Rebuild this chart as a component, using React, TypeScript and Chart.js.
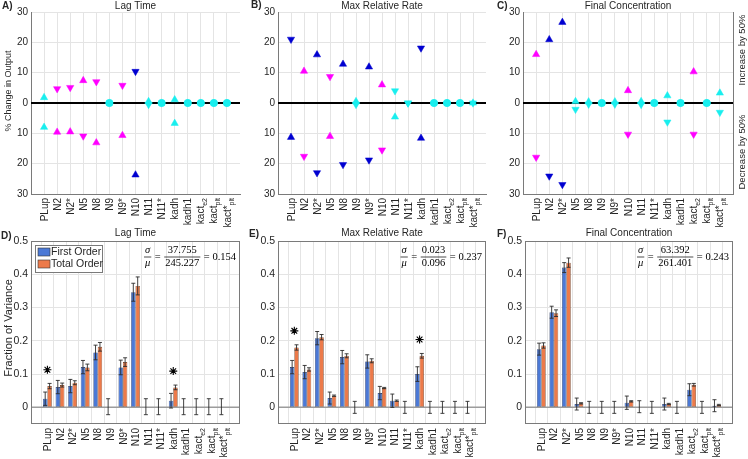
import React, { useEffect, useRef } from 'react';
import { Chart, registerables } from 'chart.js';

Chart.register(...registerables);

// ---------- categories ----------
const categories = ['PLup', 'N2', 'N2*', 'N5', 'N8', 'N9', 'N9*', 'N10', 'N11', 'N11*', 'kadh', 'kadh1', 'kact', 'kact', 'kact*'];
const categorySubs = ['', '', '', '', '', '', '', '', '', '', '', '', 'e2', 'plt', 'plt'];

// ---------- top row: % change (increase by 50% / decrease by 50%) ----------
// marker code: colour (m magenta, b blue, c cyan) + shape (^ up, v down, o circle)
const lagIncVal = [1.8, 4.7, 5.1, 7.4, 7.0, 0, 5.8, 10.4, 0.5, 0, 1.1, 0, 0, 0, 0];
const lagIncMark = ['c^', 'mv', 'mv', 'm^', 'mv', 'co', 'mv', 'bv', 'c^', 'co', 'c^', 'co', 'co', 'co', 'co'];
const lagDecVal = [8.0, 9.6, 9.5, 10.9, 13.1, 0, 10.7, 23.7, 0.5, 0, 6.7, 0, 0, 0, 0];
const lagDecMark = ['c^', 'm^', 'm^', 'mv', 'm^', 'co', 'm^', 'b^', 'cv', 'co', 'c^', 'co', 'co', 'co', 'co'];

const rateIncVal = [21.0, 10.5, 15.9, 8.7, 12.8, 0.5, 11.9, 6.0, 4.0, 0, 18.1, 0, 0, 0, 0];
const rateIncMark = ['bv', 'm^', 'b^', 'mv', 'b^', 'c^', 'b^', 'm^', 'cv', 'cv', 'bv', 'co', 'co', 'co', 'c^'];
const rateDecVal = [11.3, 17.6, 23.0, 11.0, 20.3, 0.5, 18.8, 15.5, 4.6, 0, 11.6, 0, 0, 0, 0];
const rateDecMark = ['b^', 'mv', 'bv', 'm^', 'bv', 'cv', 'bv', 'mv', 'c^', 'cv', 'b^', 'co', 'co', 'co', 'cv'];

const concIncVal = [16.0, 20.9, 26.6, 0.5, 0.4, 0, 0.4, 4.1, 0.5, 0, 2.4, 0, 10.3, 0, 3.3];
const concIncMark = ['m^', 'b^', 'b^', 'c^', 'c^', 'co', 'c^', 'm^', 'c^', 'co', 'c^', 'co', 'm^', 'co', 'c^'];
const concDecVal = [17.9, 24.1, 26.9, 2.1, 0.4, 0, 0.4, 10.3, 0.5, 0, 6.3, 0, 10.3, 0, 3.1];
const concDecMark = ['mv', 'bv', 'bv', 'cv', 'cv', 'co', 'cv', 'mv', 'cv', 'co', 'cv', 'co', 'mv', 'co', 'cv'];

const topTicks = [-30, -20, -10, 0, 10, 20, 30];

// ---------- bottom row: fraction of variance ----------
const lagFirst = [0.026, 0.061, 0.064, 0.121, 0.165, 0.002, 0.120, 0.346, 0.002, 0.002, 0.020, 0.002, 0.002, 0.002, 0.002];
const lagFirstErr = [0.02, 0.02, 0.02, 0.02, 0.022, 0.024, 0.022, 0.027, 0.024, 0.024, 0.022, 0.024, 0.024, 0.024, 0.024];
const lagTotal = [0.064, 0.067, 0.074, 0.120, 0.182, 0, 0.136, 0.365, 0, 0, 0.060, 0, 0, 0, 0];
const lagTotalErr = [0.008, 0.006, 0.006, 0.01, 0.013, 0, 0.013, 0.027, 0, 0, 0.007, 0, 0, 0, 0];
const lagStar = [0.113, null, null, null, null, null, null, null, null, null, 0.109, null, null, null, null];

const rateFirst = [0.121, 0.106, 0.208, 0.028, 0.151, 0, 0.138, 0.043, 0.020, 0, 0.100, 0, 0, 0, 0];
const rateFirstErr = [0.02, 0.02, 0.02, 0.018, 0.02, 0.018, 0.02, 0.02, 0.02, 0.018, 0.022, 0.018, 0.018, 0.018, 0.018];
const rateTotal = [0.180, 0.114, 0.211, 0.035, 0.155, 0, 0.140, 0.058, 0.020, 0, 0.155, 0, 0, 0, 0];
const rateTotalErr = [0.008, 0.005, 0.008, 0.002, 0.006, 0, 0.006, 0.002, 0.002, 0, 0.007, 0, 0, 0, 0];
const rateStar = [0.230, null, null, null, null, null, null, null, null, null, 0.204, null, null, null, null];

const concFirst = [0.175, 0.286, 0.420, 0.010, 0, 0, 0, 0.014, 0.002, 0, 0.010, 0, 0.053, 0, 0.005];
const concFirstErr = [0.018, 0.018, 0.015, 0.018, 0.018, 0.018, 0.018, 0.02, 0.018, 0.018, 0.018, 0.018, 0.018, 0.018, 0.018];
const concTotal = [0.186, 0.283, 0.435, 0.012, 0, 0, 0, 0.018, 0, 0, 0.010, 0, 0.068, 0, 0.007];
const concTotalErr = [0.008, 0.01, 0.014, 0.002, 0, 0, 0, 0.002, 0, 0, 0.002, 0, 0.004, 0, 0.002];
const concStar = [null, null, null, null, null, null, null, null, null, null, null, null, null, null, null];

const bottomTicks = [0, 0.1, 0.2, 0.3, 0.4, 0.5];

const lagRatio = ['37.755', '245.227', '0.154'];
const rateRatio = ['0.023', '0.096', '0.237'];
const concRatio = ['63.392', '261.401', '0.243'];

// ---------- styles ----------
const W = 748;
const H = 459;
const YW = 30;
const SANS = '"Liberation Sans", Arial, Helvetica, sans-serif';
const SERIF = '"Liberation Serif", "DejaVu Serif", serif';
const GRID = '#e4e4e4';
const AXIS = '#7a7a7a';
const TEXT = '#262626';
const BLUE = '#4b79d6';
const ORANGE = '#ec7a4a';
const MCOL: Record<string, string> = { m: '#ff00ff', b: '#0000d0', c: '#19eeee' };

type Box = { l: number; t: number; r: number; b: number };

function drawXLabels(chart: any) {
  const { ctx, chartArea, scales } = chart;
  ctx.save();
  ctx.fillStyle = TEXT;
  categories.forEach((c, i) => {
    const px = scales.x.getPixelForValue(i + 1);
    ctx.save();
    ctx.translate(px + 3.6, chartArea.bottom + 4);
    ctx.rotate(-Math.PI / 2);
    ctx.font = `10px ${SANS}`;
    const w1 = ctx.measureText(c).width;
    ctx.font = `7px ${SANS}`;
    const w2 = categorySubs[i] ? ctx.measureText(categorySubs[i]).width : 0;
    const total = w1 + w2;
    ctx.textAlign = 'left';
    ctx.textBaseline = 'alphabetic';
    ctx.font = `10px ${SANS}`;
    ctx.fillText(c, -total, 0);
    if (categorySubs[i]) {
      ctx.font = `7px ${SANS}`;
      ctx.fillText(categorySubs[i], -total + w1, 3);
    }
    ctx.restore();
  });
  ctx.restore();
}

function drawText(ctx: any, txt: string, x: number, y: number, font: string, align = 'center', rot = 0) {
  ctx.save();
  ctx.translate(x, y);
  if (rot) ctx.rotate(rot);
  ctx.font = font;
  ctx.fillStyle = TEXT;
  ctx.textAlign = align;
  ctx.textBaseline = 'middle';
  ctx.fillText(txt, 0, 0);
  ctx.restore();
}

function drawFormula(ctx: any, right: number, midY: number, parts: string[]) {
  const [num, den, val] = parts;
  const fN = `10.5px ${SERIF}`;
  const fI = `italic 10.5px ${SERIF}`;
  ctx.save();
  ctx.fillStyle = '#000';
  ctx.strokeStyle = '#000';
  ctx.lineWidth = 0.7;
  ctx.textBaseline = 'middle';
  ctx.textAlign = 'center';
  ctx.font = fI;
  const wSig = Math.max(ctx.measureText('σ').width, ctx.measureText('μ').width) + 2;
  ctx.font = fN;
  const wEq = ctx.measureText('=').width;
  const wFr = Math.max(ctx.measureText(num).width, ctx.measureText(den).width) + 2;
  const tail = '= ' + val;
  const wTail = ctx.measureText(tail).width;
  const gap = 3.5;
  const total = wSig + gap + wEq + gap + wFr + gap + wTail;
  let x = right - total;
  const frac = (x0: number, w: number, a: string, b: string, font: string) => {
    ctx.font = font;
    ctx.fillText(a, x0 + w / 2, midY - 6.5);
    ctx.fillText(b, x0 + w / 2, midY + 6.5);
    ctx.beginPath();
    ctx.moveTo(x0, midY + 0.5);
    ctx.lineTo(x0 + w, midY + 0.5);
    ctx.stroke();
  };
  frac(x, wSig, 'σ', 'μ', fI);
  x += wSig + gap;
  ctx.font = fN;
  ctx.textAlign = 'left';
  ctx.fillText('=', x, midY + 1);
  x += wEq + gap;
  ctx.textAlign = 'center';
  frac(x, wFr, num, den, fN);
  x += wFr + gap;
  ctx.textAlign = 'left';
  ctx.font = fN;
  ctx.fillText(tail, x, midY + 1);
  ctx.restore();
}

function baseOptions(box: Box) {
  return {
    animation: false,
    responsive: false,
    devicePixelRatio: 1,
    events: [],
    layout: { padding: { left: box.l - YW, top: box.t, right: W - box.r, bottom: H - box.b } },
    plugins: { legend: { display: false }, tooltip: { enabled: false }, title: { display: false } },
  };
}

function topConfig(title: string, letter: string, letterPos: [number, number], box: Box,
  incVal: number[], incMark: string[], decVal: number[], decMark: string[], extra: { ylabel?: boolean; right?: boolean }) {
  const data: any[] = [];
  const styles: string[] = [];
  const rots: number[] = [];
  const colors: string[] = [];
  const radii: number[] = [];
  const push = (v: number, m: string) => {
    data.push({ x: data.length % 15 + 1, y: v });
    colors.push(MCOL[m[0]]);
    styles.push(m[1] === 'o' ? 'circle' : 'triangle');
    rots.push(m[1] === 'v' ? 180 : 0);
    radii.push(m[1] === 'o' ? 3.6 : 4.2);
  };
  incVal.forEach((v, i) => push(v, incMark[i]));
  decVal.forEach((v, i) => push(-v, decMark[i]));
  return {
    type: 'scatter',
    data: {
      datasets: [{
        label: title, data, pointStyle: styles, rotation: rots, pointRadius: radii,
        backgroundColor: colors, borderColor: colors, borderWidth: 0.5,
      }],
    },
    options: {
      ...baseOptions(box),
      scales: {
        x: {
          type: 'linear', min: 0, max: 16,
          afterBuildTicks: (s: any) => { s.ticks = categories.map((_, i) => ({ value: i + 1 })); },
          afterFit: (s: any) => { s.height = 0; },
          ticks: { display: false },
          grid: { color: GRID, drawTicks: false },
          border: { color: AXIS },
        },
        y: {
          type: 'linear', min: -30, max: 30,
          afterBuildTicks: (s: any) => { s.ticks = topTicks.map((v) => ({ value: v })); },
          afterFit: (s: any) => { s.width = YW; },
          ticks: { callback: (v: number) => String(Math.abs(v)), color: TEXT, font: { family: SANS, size: 10 }, padding: 3 },
          grid: { color: GRID, drawTicks: false },
          border: { color: AXIS },
        },
      },
    },
    plugins: [{
      id: 'deco',
      beforeDatasetsDraw(chart: any) {
        const { ctx, chartArea, scales } = chart;
        const y0 = scales.y.getPixelForValue(0);
        ctx.save();
        ctx.strokeStyle = '#000';
        ctx.lineWidth = 2;
        ctx.beginPath();
        ctx.moveTo(chartArea.left, y0);
        ctx.lineTo(chartArea.right, y0);
        ctx.stroke();
        if (extra.right) {
          ctx.strokeStyle = AXIS;
          ctx.lineWidth = 1;
          ctx.beginPath();
          ctx.moveTo(chartArea.right + 0.5, chartArea.top);
          ctx.lineTo(chartArea.right + 0.5, chartArea.bottom);
          ctx.stroke();
        }
        ctx.restore();
      },
      afterDraw(chart: any) {
        const { ctx, chartArea } = chart;
        drawXLabels(chart);
        drawText(ctx, title, (chartArea.left + chartArea.right) / 2, 6.5, `10px ${SANS}`);
        drawText(ctx, letter, letterPos[0], letterPos[1], `bold 10px ${SANS}`, 'left');
        if (extra.ylabel) drawText(ctx, '% Change in Output', 9, 91, `9px ${SANS}`, 'center', -Math.PI / 2);
        if (extra.right) {
          drawText(ctx, 'Increase by 50%', 742, 50, `9.5px ${SANS}`, 'center', -Math.PI / 2);
          drawText(ctx, 'Decrease by 50%', 742, 152, `9.5px ${SANS}`, 'center', -Math.PI / 2);
        }
      },
    }],
  };
}

function bottomConfig(title: string, letter: string, letterPos: [number, number], box: Box,
  first: number[], firstErr: number[], total: number[], totalErr: number[], star: (number | null)[],
  ratio: string[], extra: { ylabel?: boolean; legend?: boolean }) {
  const stars: any[] = [];
  star.forEach((v, i) => { if (v !== null) stars.push({ x: i + 1, y: v }); });
  const barBorder = (c: any) => (c.raw && c.raw.y > 0 ? 0.6 : 0);
  return {
    type: 'bar',
    data: {
      datasets: [
        {
          type: 'bar', label: 'First Order', data: first.map((v, i) => ({ x: i + 1, y: v })),
          backgroundColor: BLUE, borderColor: '#1a2a55', borderWidth: barBorder, borderSkipped: false,
          categoryPercentage: 0.7, barPercentage: 1,
        },
        {
          type: 'bar', label: 'Total Order', data: total.map((v, i) => ({ x: i + 1, y: v })),
          backgroundColor: ORANGE, borderColor: '#5a2a10', borderWidth: barBorder, borderSkipped: false,
          categoryPercentage: 0.7, barPercentage: 1,
        },
        {
          type: 'scatter', label: 'significant', data: stars, pointStyle: 'star', pointRadius: 4,
          borderColor: '#000', backgroundColor: '#000', borderWidth: 1.1,
        },
      ],
    },
    options: {
      ...baseOptions(box),
      scales: {
        x: {
          type: 'linear', min: 0.25, max: 15.75,
          afterBuildTicks: (s: any) => { s.ticks = categories.map((_, i) => ({ value: i + 1 })); },
          afterFit: (s: any) => { s.height = 0; },
          ticks: { display: false },
          grid: { color: GRID, drawTicks: false },
          border: { display: false },
        },
        y: {
          type: 'linear', min: -0.05, max: 0.5,
          afterBuildTicks: (s: any) => { s.ticks = bottomTicks.map((v) => ({ value: v })); },
          afterFit: (s: any) => { s.width = YW; },
          ticks: { callback: (v: number) => (v === 0 ? '0' : v.toFixed(1)), color: TEXT, font: { family: SANS, size: 10.5 }, padding: 3 },
          grid: { color: GRID, drawTicks: false },
          border: { display: false },
        },
      },
    },
    plugins: [{
      id: 'deco',
      beforeDatasetsDraw(chart: any) {
        const { ctx, chartArea, scales } = chart;
        const y0 = scales.y.getPixelForValue(0);
        ctx.save();
        ctx.strokeStyle = '#9c9c9c';
        ctx.lineWidth = 1.5;
        ctx.beginPath();
        ctx.moveTo(chartArea.left, y0);
        ctx.lineTo(chartArea.right, y0);
        ctx.stroke();
        ctx.restore();
      },
      afterDatasetsDraw(chart: any) {
        const { ctx, scales } = chart;
        const vals = [first, total];
        const errs = [firstErr, totalErr];
        ctx.save();
        ctx.strokeStyle = '#2b2b2b';
        ctx.lineWidth = 0.9;
        [0, 1].forEach((di) => {
          const meta = chart.getDatasetMeta(di);
          meta.data.forEach((el: any, i: number) => {
            const e = errs[di][i];
            if (!e) return;
            const v = vals[di][i];
            const x = el.x;
            const ya = scales.y.getPixelForValue(v + e);
            const yb = scales.y.getPixelForValue(v - e);
            ctx.beginPath();
            ctx.moveTo(x, ya); ctx.lineTo(x, yb);
            ctx.moveTo(x - 2, ya); ctx.lineTo(x + 2, ya);
            ctx.moveTo(x - 2, yb); ctx.lineTo(x + 2, yb);
            ctx.stroke();
          });
        });
        ctx.restore();
      },
      afterDraw(chart: any) {
        const { ctx, chartArea } = chart;
        ctx.save();
        ctx.strokeStyle = AXIS;
        ctx.lineWidth = 1;
        ctx.strokeRect(chartArea.left + 0.5, chartArea.top + 0.5, chartArea.right - chartArea.left - 1, chartArea.bottom - chartArea.top - 1);
        ctx.restore();
        drawXLabels(chart);
        drawText(ctx, title, (chartArea.left + chartArea.right) / 2, 233, `10px ${SANS}`);
        drawText(ctx, letter, letterPos[0], letterPos[1], `bold 10px ${SANS}`, 'left');
        if (extra.ylabel) drawText(ctx, 'Fraction of Variance', 9, 328, `11px ${SANS}`, 'center', -Math.PI / 2);
        drawFormula(ctx, chartArea.right - 4, 256.5, ratio);
        if (extra.legend) {
          const ds = chart.data.datasets;
          const lx = chartArea.left + 4;
          const ly = chartArea.top + 4;
          ctx.save();
          ctx.fillStyle = '#fff';
          ctx.strokeStyle = AXIS;
          ctx.lineWidth = 1;
          ctx.fillRect(lx, ly, 67, 27);
          ctx.strokeRect(lx + 0.5, ly + 0.5, 67, 27);
          [0, 1].forEach((k) => {
            const yy = ly + 3 + k * 12;
            ctx.fillStyle = ds[k].backgroundColor;
            ctx.fillRect(lx + 3, yy, 12, 8);
            ctx.strokeStyle = '#333';
            ctx.lineWidth = 0.6;
            ctx.strokeRect(lx + 3, yy, 12, 8);
            ctx.fillStyle = TEXT;
            ctx.font = `10.5px ${SANS}`;
            ctx.textAlign = 'left';
            ctx.textBaseline = 'middle';
            ctx.fillText(ds[k].label, lx + 16, yy + 4.5);
          });
          ctx.restore();
        }
      },
    }],
  };
}

const TOP_A: Box = { l: 31, t: 12, r: 240, b: 194 };
const TOP_B: Box = { l: 278, t: 12, r: 486, b: 194 };
const TOP_C: Box = { l: 523, t: 12, r: 733, b: 194 };
const BOT_D: Box = { l: 31, t: 241, r: 240, b: 424 };
const BOT_E: Box = { l: 278, t: 241, r: 486, b: 424 };
const BOT_F: Box = { l: 525, t: 241, r: 733, b: 424 };

const builders = [
  () => topConfig('Lag Time', 'A)', [2, 6], TOP_A, lagIncVal, lagIncMark, lagDecVal, lagDecMark, { ylabel: true }),
  () => topConfig('Max Relative Rate', 'B)', [251, 5], TOP_B, rateIncVal, rateIncMark, rateDecVal, rateDecMark, {}),
  () => topConfig('Final Concentration', 'C)', [497, 6], TOP_C, concIncVal, concIncMark, concDecVal, concDecMark, { right: true }),
  () => bottomConfig('Lag Time', 'D)', [1, 236], BOT_D, lagFirst, lagFirstErr, lagTotal, lagTotalErr, lagStar, lagRatio, { ylabel: true, legend: true }),
  () => bottomConfig('Max Relative Rate', 'E)', [249, 234], BOT_E, rateFirst, rateFirstErr, rateTotal, rateTotalErr, rateStar, rateRatio, {}),
  () => bottomConfig('Final Concentration', 'F)', [497, 234], BOT_F, concFirst, concFirstErr, concTotal, concTotalErr, concStar, concRatio, {}),
];

export default function App() {
  const r0 = useRef<HTMLCanvasElement>(null);
  const r1 = useRef<HTMLCanvasElement>(null);
  const r2 = useRef<HTMLCanvasElement>(null);
  const r3 = useRef<HTMLCanvasElement>(null);
  const r4 = useRef<HTMLCanvasElement>(null);
  const r5 = useRef<HTMLCanvasElement>(null);
  const refs = [r0, r1, r2, r3, r4, r5];

  useEffect(() => {
    const charts = builders.map((b, i) => new Chart(refs[i].current as HTMLCanvasElement, b() as any));
    return () => charts.forEach((c) => c.destroy());
  }, []);

  return (
    <div style={{ position: 'fixed', left: 0, top: 0, width: W, height: H, background: '#fff', overflow: 'hidden' }}>
      {refs.map((r, i) => (
        <canvas key={i} ref={r} width={W} height={H} style={{ position: 'absolute', left: 0, top: 0, width: W, height: H }} />
      ))}
    </div>
  );
}
